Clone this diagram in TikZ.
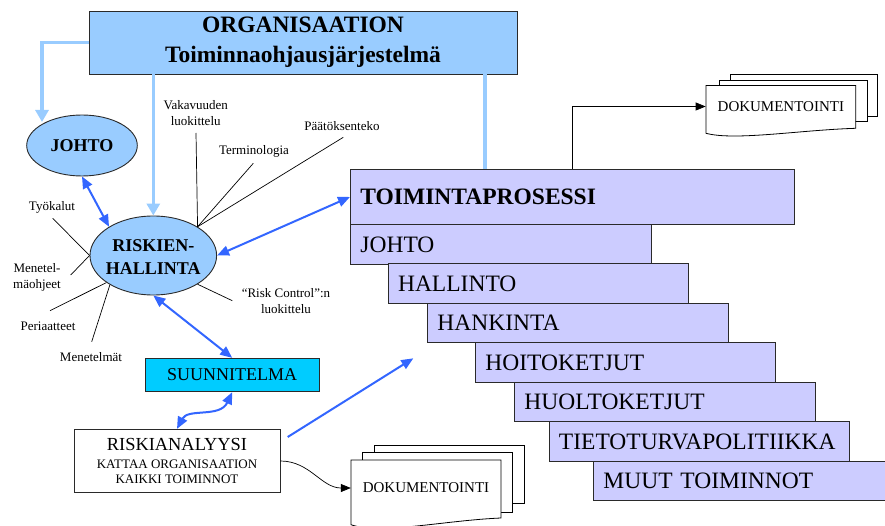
\documentclass[tikz,border=0pt]{standalone}
\usepackage{fontspec}
\setmainfont{LiberationSerif}[Extension=.ttf, UprightFont=*-Regular, BoldFont=*-Bold,
  ItalicFont=*-Italic, BoldItalicFont=*-BoldItalic]
\usetikzlibrary{arrows.meta,shapes.geometric}
\definecolor{orgblue}{HTML}{99CCFF}
\definecolor{rowfill}{HTML}{CCCCFF}
\definecolor{plancyan}{HTML}{00CCFF}
\definecolor{linkblue}{HTML}{3366FF}
\definecolor{edge}{HTML}{2A2A2A}
\begin{document}
\begin{tikzpicture}[x=1pt,y=-1pt,
  orgbox/.style={draw=edge, fill=orgblue, line width=0.9pt, minimum width=428pt,
    minimum height=63pt, align=center, inner sep=0pt,
    font=\rmfamily\fontsize{23.5}{30}\selectfont\bfseries},
  ellbox/.style={ellipse, draw=edge, fill=orgblue, line width=0.9pt, inner sep=0pt},
  elltext/.style={font=\rmfamily\fontsize{18}{23}\selectfont\bfseries, align=center, inner sep=0pt},
  rowbox/.style={draw=edge, fill=rowfill, line width=0.9pt, anchor=north west,
    align=left, inner xsep=10pt, inner ysep=0pt, font=\rmfamily\fontsize{23.5}{28}\selectfont},
  plainbox/.style={draw=edge, line width=0.9pt, inner sep=0pt, align=center},
  lab/.style={font=\rmfamily\fontsize{13}{16}\selectfont, align=center, inner sep=0pt},
  tie/.style={draw=black, line width=0.7pt},
  feed/.style={draw=orgblue, line width=3.3pt},
  feedtip/.style={-{Triangle[length=12pt,width=13pt]}},
  link/.style={draw=linkblue, line width=2pt},
  twoway/.style={{Triangle[length=12pt,width=10pt]}-{Triangle[length=12pt,width=10pt]}},
  oneway/.style={-{Triangle[length=12pt,width=10pt]}},
  blacktip/.style={-{Triangle[length=10pt,width=8pt]}},
  paper/.style={draw=black, fill=white, line width=0.8pt},
  doctext/.style={font=\rmfamily\fontsize{15}{18}\selectfont, inner sep=0pt, minimum width=150pt, minimum height=40pt}
]
\useasboundingbox (0,0) rectangle (885,526);
\clip (0,0) rectangle (885,526);

% --- headline box
\node[orgbox] (org) at (303,42.5) {ORGANISAATION\\Toiminnaohjausjärjestelmä};

% --- ellipses
\node[ellbox, minimum width=110.6pt, minimum height=61pt] (johto) at (82,145.5) {};
\node[elltext] (johtotext) at (johto.center) {JOHTO};
\node[ellbox, minimum width=126.6pt, minimum height=79pt] (risk) at (153.3,255.5) {};
\node[elltext] (risktext) at (153.3,257) {RISKIEN-\\HALLINTA};

% --- process staircase
\node[rowbox, minimum width=443.6pt, minimum height=55.6pt, text width=423.6pt,
  font=\rmfamily\fontsize{23.5}{28}\selectfont\bfseries] (toim) at (350,168.7) {TOIMINTAPROSESSI};
\node[rowbox, minimum height=39.6pt, text width=281pt] (r1) at (350,224.3) {JOHTO};
\node[rowbox, minimum height=39.4pt, text width=280.7pt] (r2) at (387.6,263.3) {HALLINTO};
\node[rowbox, minimum height=39.3pt, text width=280.6pt] (r3) at (427,302.7) {HANKINTA};
\node[rowbox, minimum height=40pt, text width=280pt] (r4) at (475,342) {HOITOKETJUT};
\node[rowbox, minimum height=39.3pt, text width=281pt] (r5) at (514,382) {HUOLTOKETJUT};
\node[rowbox, minimum height=39.4pt, text width=280.5pt] (r6) at (548.5,421.3) {TIETOTURVAPOLITIIKKA};
\node[rowbox, minimum height=39.3pt, text width=300pt] (r7) at (593,460.7) {MUUT TOIMINNOT};

% --- plan and analysis boxes
\node[plainbox, fill=plancyan, minimum width=174.3pt, minimum height=33.4pt,
  font=\rmfamily\fontsize{18}{22}\selectfont] (suun) at (232.2,375) {SUUNNITELMA};
\node[plainbox, fill=white, minimum width=206pt, minimum height=63.4pt,
  font=\rmfamily\fontsize{13}{15}\selectfont] (ra) at (177,461)
  {{\fontsize{18.4}{22}\selectfont RISKIANALYYSI}\\[3pt]KATTAA ORGANISAATION\\KAIKKI TOIMINNOT};

% --- document stacks
\draw[paper] (730.7,74.3) rectangle (877.7,116.7);
\draw[paper] (719,80) rectangle (867.3,121.7);
\draw[paper] (706,85.5) -- (855.7,85.5) -- (855.7,128.3)
  .. controls (800,130) and (735,141) .. (706,133.3) -- cycle;
\node[doctext] (dtop) at (780.85,106.5) {DOKUMENTOINTI};

\draw[paper] (374.3,445) rectangle (524.3,503.3);
\draw[paper] (362.7,452.3) rectangle (512.3,512.3);
\draw[paper] (351,460) -- (501,460) -- (501,518)
  .. controls (445,520.3) and (380,535) .. (351,524.7) -- cycle;
\node[doctext] (dbot) at (426,488) {DOKUMENTOINTI};

% --- labels around risk management
\node[lab] (vak) at (195.7,113.5) {Vakavuuden\\luokittelu};
\node[lab] (term) at (254,151) {Terminologia};
\node[lab] (paat) at (342,126) {Päätöksenteko};
\node[lab] (tyo) at (52,207) {Työkalut};
\node[lab] (menohj) at (37,277) {Menetel-\\mäohjeet};
\node[lab] (peri) at (48,326) {Periaatteet};
\node[lab] (menm) at (91,357) {Menetelmät};
\node[lab] (rc) at (286,301) {“Risk Control”:n\\luokittelu};

\coordinate (vakE) at (196,133);
\coordinate (termE) at (253.3,163.3);
\coordinate (paatE) at (343.3,137.3);
\coordinate (tyoE) at (52.7,218.3);
\coordinate (menohjE) at (70.7,275);
\coordinate (periE) at (50,310.7);
\coordinate (menmE) at (91.7,341.7);
\coordinate (rcE) at (232.3,300.7);

\draw[tie] (vakE) -- (risk.33);
\draw[tie] (termE) -- (risk.33);
\draw[tie] (paatE) -- (risk.33);
\draw[tie] (tyoE) -- (risk.west);
\draw[tie] (menohjE) -- (risk.west);
\draw[tie] (periE) -- (risk.210);
\draw[tie] (menmE) -- (risk.214);
\draw[tie] (rcE) -- (risk.-33);

% --- feeds from the headline box
\coordinate (johtoIn) at (42,122);
\coordinate (procTop) at (485,168.7);
\draw[feed, feedtip] (org.west) -| (johtoIn);
\draw[feed, feedtip] (org.south -| risk.north) -- (risk.north);
\draw[feed] (org.south -| procTop) -- (procTop);

% --- blue links
\draw[link, twoway] (johto.south) -- (risk.147);
\draw[link, twoway] (risk.east) -- (toim.west);
\draw[link, twoway] (risk.south) -- (suun.north);
\draw[link, twoway] (ra.north) .. controls (188,408) and (220,418) .. (suun.south);
\coordinate (raOut) at (287.7,437);
\coordinate (procIn) at (413.3,358.3);
\draw[link, oneway] (raOut) -- (procIn);

% --- documentation arrows
\draw[tie, blacktip] (toim.north) |- (dtop.west);
\draw[tie, blacktip] (ra.east) to[out=0,in=180] (dbot.west);
\end{tikzpicture}
\end{document}
